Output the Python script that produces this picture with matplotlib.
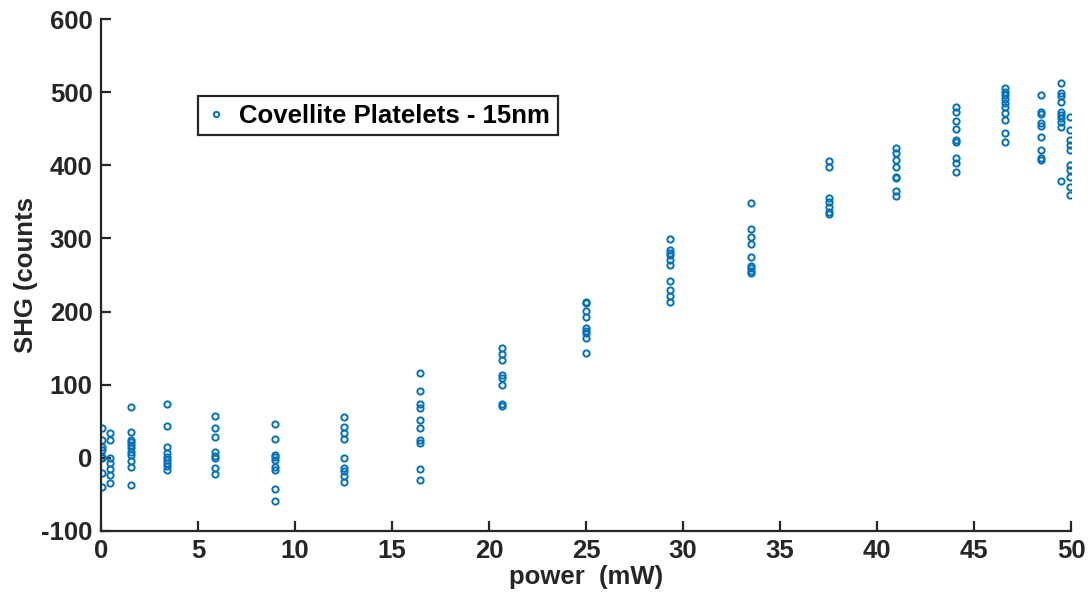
import numpy as np
import matplotlib
matplotlib.use("Agg")
from matplotlib import pyplot as plt

# measured power (mW) and SHG counts, one group per power setting
power_levels = [0.07, 0.46, 1.55, 3.4, 5.9, 8.97, 12.55, 16.44, 20.65, 25.0,
                29.33, 33.5, 37.5, 40.96, 44.07, 46.6, 48.44, 49.5, 49.95]
shg_counts = [
    [40.6, 24.6, 15.5, 10.9, 1.8, -0.4, -20.9, -40.0],
    [33.8, 24.6, -0.4, -7.2, -15.5, -23.2, -33.8],
    [70, 36, 24.6, 22.3, 17.8, 13.3, 8.6, 4.1, -4.1, -12.7, -37.3],
    [73.8, 43.8, 14.6, 7.2, 0.9, -2.7, -6.4, -10.9, -16.4],
    [57.4, 40.6, 28.3, 8.6, 2.7, -0.4, -14.1, -21.9],
    [46.5, 26.4, 4.1, 0.9, -2.7, -12.7, -16.4, -42.8, -58.4],
    [55.6, 42.8, 33.8, 25.6, -0.4, -14.1, -17.4, -24.6, -32.4],
    [116, 91.6, 73.8, 68, 52, 40.6, 24.6, 20.1, -15.5, -30.1],
    [150.8, 142.2, 134, 113.5, 109, 99.8, 73.8, 71.5],
    [213.7, 211.5, 201.4, 192.4, 177.3, 174.1, 171.3, 163.7, 144],
    [299, 284.4, 280.7, 277.6, 270.7, 263.9, 242, 229.7, 221.5, 213.7],
    [348.2, 312.7, 301.8, 292.2, 274.4, 262.5, 259.4, 256.1, 252.5],
    [406.5, 398, 355, 350.4, 343.6, 336.7, 333.6],
    [423.4, 416.6, 407.4, 397.4, 384.6, 382.4, 365.5, 358.2],
    [480.3, 473.5, 461.2, 449.4, 434.8, 432.5, 409.8, 402.9, 391.4],
    [505.5, 500.8, 496.3, 490.4, 485, 480.3, 471.3, 462.1, 444.8, 432.5],
    [496.3, 473.5, 470.3, 457.6, 453.9, 438.5, 421.1, 409.8, 407.4],
    [512.3, 498.6, 495, 487.2, 473.5, 469, 464.5, 459.8, 453, 379.1],
    [466.6, 448.5, 434.8, 428, 421.1, 400.6, 393.8, 384.6, 370.9, 359.6],
]
series_label = "Covellite Platelets - 15nm"
x_ticks = [0, 5, 10, 15, 20, 25, 30, 35, 40, 45, 50]
y_ticks = [-100, 0, 100, 200, 300, 400, 500, 600]

plt.rcParams['font.family'] = ['Liberation Sans', 'DejaVu Sans']
plt.rcParams['font.weight'] = 'bold'
plt.rcParams['axes.unicode_minus'] = False
text_color = '#262626'
fsize = 18.5

x = np.concatenate([[p] * len(v) for p, v in zip(power_levels, shg_counts)])
y = np.concatenate([np.array(v, dtype=float) for v in shg_counts])

fig = plt.figure(figsize=(10.88, 6.04), dpi=100)
ax = fig.add_axes([0.0928, 0.1209, 0.8916, 0.8476])
ax.plot(x, y, linestyle='none', marker='o', markersize=4.5,
        markerfacecolor='none', markeredgecolor='#0072BD',
        markeredgewidth=1.4, label=series_label)

ax.set_xlim(0, 50)
ax.set_ylim(-100, 600)
ax.set_xticks(x_ticks)
ax.set_yticks(y_ticks)
ax.spines['top'].set_visible(False)
ax.spines['right'].set_visible(False)
for s in ('left', 'bottom'):
    ax.spines[s].set_linewidth(1.6)
    ax.spines[s].set_color(text_color)
ax.tick_params(direction='in', length=7, width=1.6, color=text_color,
               labelsize=fsize, labelcolor=text_color, pad=6)
for lab in ax.get_xticklabels() + ax.get_yticklabels():
    lab.set_fontweight('bold')

ax.set_xlabel("power  (mW)", fontsize=fsize, fontweight='bold', color=text_color, labelpad=1)
ax.set_ylabel("SHG (counts", fontsize=fsize, fontweight='bold', color=text_color, labelpad=2)

leg = ax.legend(loc='upper left', bbox_to_anchor=(0.1, 0.85), frameon=True,
                fancybox=False, edgecolor='#262626', framealpha=1,
                prop={'size': fsize, 'weight': 'bold'}, handlelength=0.8,
                handletextpad=0.5, borderpad=0.3, borderaxespad=0,
                markerscale=0.85)
leg.get_frame().set_linewidth(1.6)
for t in leg.get_texts():
    t.set_color('black')

fig.savefig("out.png", dpi=100)
